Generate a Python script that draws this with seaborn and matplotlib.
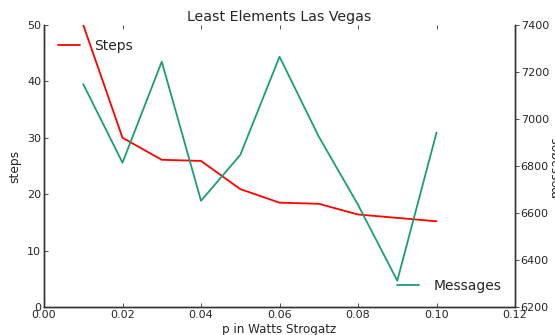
import matplotlib
matplotlib.use("Agg")
import matplotlib.pyplot as plt
import seaborn as sns
import pandas as pd
from matplotlib.ticker import FormatStrFormatter

# Watts-Strogatz rewiring probability and measured results
p_values = [0.01, 0.02, 0.03, 0.04, 0.05, 0.06, 0.07, 0.08, 0.09, 0.10]
steps = [50.0, 30.0, 26.1, 25.9, 20.9, 18.5, 18.3, 16.4, 15.8, 15.2]
messages = [7148, 6814, 7244, 6652, 6847, 7265, 6925, 6635, 6312, 6942]

x_ticks = [0.00, 0.02, 0.04, 0.06, 0.08, 0.10, 0.12]
steps_ticks = [0, 10, 20, 30, 40, 50]
msg_ticks = [6200, 6400, 6600, 6800, 7000, 7200, 7400]

sns.set_style("white")
plt.rcParams["font.family"] = ["DejaVu Sans"]
text_color = "#262626"

df = pd.DataFrame({"p": p_values, "steps": steps, "messages": messages})

fig = plt.figure(figsize=(5.55, 3.35), dpi=100)
ax = fig.add_axes([0.0793, 0.0836, 0.8487, 0.8418])

sns.lineplot(data=df, x="p", y="steps", ax=ax, color="#ff0000",
             linewidth=1.3, label="Steps")
ax2 = ax.twinx()
sns.lineplot(data=df, x="p", y="messages", ax=ax2, color="#1b9e77",
             linewidth=1.3, label="Messages")

ax.set_xlim(0, 0.12)
ax.set_ylim(0, 50)
ax2.set_ylim(6200, 7400)
ax.set_xticks(x_ticks)
ax.set_yticks(steps_ticks)
ax2.set_yticks(msg_ticks)
ax.xaxis.set_major_formatter(FormatStrFormatter("%.2f"))

for a in (ax, ax2):
    a.spines["top"].set_visible(False)
    for s in ("left", "bottom", "right"):
        a.spines[s].set_color("#333333")
        a.spines[s].set_linewidth(1.0)

ax.tick_params(axis="both", direction="in", length=3, width=0.6,
               labelsize=8, colors="#333333", labelcolor=text_color,
               top=True, bottom=True, left=True, right=False, pad=2)
ax2.tick_params(axis="y", direction="out", length=3, width=0.6,
                labelsize=8, colors="#333333", labelcolor=text_color, pad=1)

ax.set_xlabel("p in Watts Strogatz", fontsize=8.6, color=text_color, labelpad=2)
ax.set_ylabel("steps", fontsize=8.8, color=text_color, labelpad=4)
ax2.set_ylabel("messages", fontsize=8.8, color=text_color, labelpad=0)
ax.set_title("Least Elements Las Vegas", fontsize=10.2, color=text_color, pad=3)

ax.legend(loc="upper left", frameon=False, fontsize=10, handlelength=1.6,
          borderaxespad=0.6, handletextpad=1.0)
ax2.legend(loc="lower right", frameon=False, fontsize=10, handlelength=1.6,
           borderaxespad=0.6, handletextpad=1.0)

fig.savefig("out.png", dpi=100)
